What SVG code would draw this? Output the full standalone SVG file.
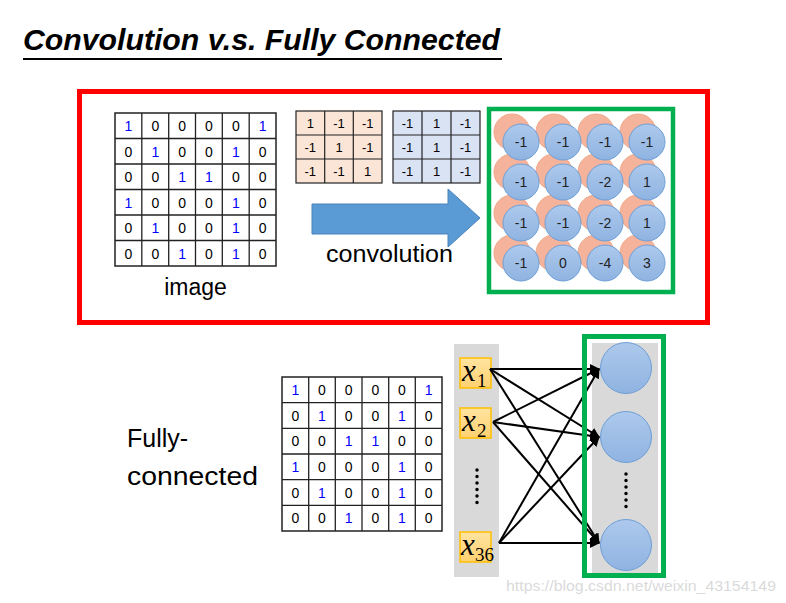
<svg xmlns="http://www.w3.org/2000/svg" width="786" height="603" viewBox="0 0 786 603">
<defs>
<style>
.t{font-family:"Liberation Sans",Arial,sans-serif;fill:#000}
.g{font-family:"Liberation Sans",Arial,sans-serif;font-size:14px;text-anchor:middle;dominant-baseline:central}
.one{fill:#0000ff}
.zero{fill:#000}
.cell{fill:#fff;stroke:#222;stroke-width:1.3}
.fo{fill:#fbe5d6;stroke:#222;stroke-width:1.2}
.fb{fill:#dae3f3;stroke:#222;stroke-width:1.2}
.ft{font-family:"Liberation Sans",Arial,sans-serif;font-size:13px;text-anchor:middle;dominant-baseline:central;fill:#000}
.oc{fill:#f4b39a;stroke:#f0a88a;stroke-width:1}
.bc{fill:url(#bg);stroke:#6e9fd6;stroke-width:1}
.ct{font-family:"Liberation Sans",Arial,sans-serif;font-size:14px;text-anchor:middle;dominant-baseline:central;fill:#222}
.xb{fill:url(#yg);stroke:#ffc000;stroke-width:1.5}
.xt{font-family:"Liberation Serif","Times New Roman",serif;font-style:italic;font-size:31px;fill:#000}
.sub{font-family:"Liberation Serif","Times New Roman",serif;font-size:19px;fill:#000}
.cn line{stroke:#000;stroke-width:2;marker-end:url(#ah)}
.dots{stroke:#000;stroke-width:3.5;stroke-linecap:round;stroke-dasharray:0 6.5}
</style>
<linearGradient id="bg" x1="0" y1="0" x2="0" y2="1">
<stop offset="0" stop-color="#adc9ec"/>
<stop offset="1" stop-color="#8fb3e1"/>
</linearGradient>
<linearGradient id="yg" x1="0" y1="0" x2="0" y2="1">
<stop offset="0" stop-color="#ffe4a0"/>
<stop offset="1" stop-color="#ffd070"/>
</linearGradient>
<marker id="ah" viewBox="0 0 10 10" refX="9" refY="5" markerWidth="5" markerHeight="5" orient="auto" markerUnits="strokeWidth">
<path d="M0,0 L10,5 L0,10 z" fill="#000"/>
</marker>
</defs>
<rect width="786" height="603" fill="#fff"/>

<g id="title">
<text class="t" x="23" y="50" font-size="30" font-weight="bold" font-style="italic" textLength="477" lengthAdjust="spacingAndGlyphs">Convolution v.s. Fully Connected</text>
<line x1="23" y1="59" x2="502" y2="59" stroke="#000" stroke-width="1.8"/>
</g>

<g id="conv-frame">
<rect x="79.5" y="91.5" width="628" height="231" fill="none" stroke="#ff0000" stroke-width="5"/>
</g>

<g id="image-grid">
<rect x="115" y="113" width="161" height="153" fill="#fff" stroke="#222" stroke-width="1.5"/>
<g stroke="#222" stroke-width="1.3">
<line x1="141.8" y1="113" x2="141.8" y2="266"/><line x1="168.7" y1="113" x2="168.7" y2="266"/><line x1="195.5" y1="113" x2="195.5" y2="266"/><line x1="222.3" y1="113" x2="222.3" y2="266"/><line x1="249.2" y1="113" x2="249.2" y2="266"/>
<line x1="115" y1="138.5" x2="276" y2="138.5"/><line x1="115" y1="164" x2="276" y2="164"/><line x1="115" y1="189.5" x2="276" y2="189.5"/><line x1="115" y1="215" x2="276" y2="215"/><line x1="115" y1="240.5" x2="276" y2="240.5"/>
</g>
<g class="g">
<text x="128.4" y="126" class="one">1</text><text x="155.3" y="126">0</text><text x="182.1" y="126">0</text><text x="208.9" y="126">0</text><text x="235.8" y="126">0</text><text x="262.6" y="126" class="one">1</text>
<text x="128.4" y="151.5">0</text><text x="155.3" y="151.5" class="one">1</text><text x="182.1" y="151.5">0</text><text x="208.9" y="151.5">0</text><text x="235.8" y="151.5" class="one">1</text><text x="262.6" y="151.5">0</text>
<text x="128.4" y="177">0</text><text x="155.3" y="177">0</text><text x="182.1" y="177" class="one">1</text><text x="208.9" y="177" class="one">1</text><text x="235.8" y="177">0</text><text x="262.6" y="177">0</text>
<text x="128.4" y="202.5" class="one">1</text><text x="155.3" y="202.5">0</text><text x="182.1" y="202.5">0</text><text x="208.9" y="202.5">0</text><text x="235.8" y="202.5" class="one">1</text><text x="262.6" y="202.5">0</text>
<text x="128.4" y="228">0</text><text x="155.3" y="228" class="one">1</text><text x="182.1" y="228">0</text><text x="208.9" y="228">0</text><text x="235.8" y="228" class="one">1</text><text x="262.6" y="228">0</text>
<text x="128.4" y="253.5">0</text><text x="155.3" y="253.5">0</text><text x="182.1" y="253.5" class="one">1</text><text x="208.9" y="253.5">0</text><text x="235.8" y="253.5" class="one">1</text><text x="262.6" y="253.5">0</text>
</g>
<text class="t" x="195.5" y="295" font-size="23" text-anchor="middle">image</text>
</g>

<g id="filter1">
<rect x="296" y="111" width="86" height="72" class="fo"/>
<g stroke="#222" stroke-width="1.2"><line x1="324.7" y1="111" x2="324.7" y2="183"/><line x1="353.3" y1="111" x2="353.3" y2="183"/><line x1="296" y1="135" x2="382" y2="135"/><line x1="296" y1="159" x2="382" y2="159"/></g>
<g class="ft">
<text x="310.3" y="123">1</text><text x="339" y="123">-1</text><text x="367.7" y="123">-1</text>
<text x="310.3" y="147">-1</text><text x="339" y="147">1</text><text x="367.7" y="147">-1</text>
<text x="310.3" y="171">-1</text><text x="339" y="171">-1</text><text x="367.7" y="171">1</text>
</g>
</g>

<g id="filter2">
<rect x="393" y="111" width="87" height="72" class="fb"/>
<g stroke="#222" stroke-width="1.2"><line x1="422" y1="111" x2="422" y2="183"/><line x1="451" y1="111" x2="451" y2="183"/><line x1="393" y1="135" x2="480" y2="135"/><line x1="393" y1="159" x2="480" y2="159"/></g>
<g class="ft">
<text x="407.5" y="123">-1</text><text x="436.5" y="123">1</text><text x="465.5" y="123">-1</text>
<text x="407.5" y="147">-1</text><text x="436.5" y="147">1</text><text x="465.5" y="147">-1</text>
<text x="407.5" y="171">-1</text><text x="436.5" y="171">1</text><text x="465.5" y="171">-1</text>
</g>
</g>

<g id="conv-arrow">
<path d="M312,204 L448,204 L448,189 L480,218 L448,247 L448,234 L312,234 Z" fill="#5b9bd5" stroke="#4a83bd" stroke-width="1"/>
<text class="t" x="326" y="262" font-size="23" textLength="127" lengthAdjust="spacingAndGlyphs">convolution</text>
</g>

<g id="feature-map">
<g class="oc">
<circle cx="512" cy="132" r="18"/><circle cx="554" cy="132" r="18"/><circle cx="596" cy="132" r="18"/><circle cx="638" cy="132" r="18"/>
<circle cx="512" cy="172" r="18"/><circle cx="554" cy="172" r="18"/><circle cx="596" cy="172" r="18"/><circle cx="638" cy="172" r="18"/>
<circle cx="512" cy="213" r="18"/><circle cx="554" cy="213" r="18"/><circle cx="596" cy="213" r="18"/><circle cx="638" cy="213" r="18"/>
<circle cx="512" cy="253" r="18"/><circle cx="554" cy="253" r="18"/><circle cx="596" cy="253" r="18"/><circle cx="638" cy="253" r="18"/>
</g>
<g class="bc">
<circle cx="521" cy="142" r="18"/><circle cx="563" cy="142" r="18"/><circle cx="605" cy="142" r="18"/><circle cx="647" cy="142" r="18"/>
<circle cx="521" cy="182" r="18"/><circle cx="563" cy="182" r="18"/><circle cx="605" cy="182" r="18"/><circle cx="647" cy="182" r="18"/>
<circle cx="521" cy="223" r="18"/><circle cx="563" cy="223" r="18"/><circle cx="605" cy="223" r="18"/><circle cx="647" cy="223" r="18"/>
<circle cx="521" cy="263" r="18"/><circle cx="563" cy="263" r="18"/><circle cx="605" cy="263" r="18"/><circle cx="647" cy="263" r="18"/>
</g>
<g class="ct">
<text x="521" y="142">-1</text><text x="563" y="142">-1</text><text x="605" y="142">-1</text><text x="647" y="142">-1</text>
<text x="521" y="182">-1</text><text x="563" y="182">-1</text><text x="605" y="182">-2</text><text x="647" y="182">1</text>
<text x="521" y="223">-1</text><text x="563" y="223">-1</text><text x="605" y="223">-2</text><text x="647" y="223">1</text>
<text x="521" y="263">-1</text><text x="563" y="263">0</text><text x="605" y="263">-4</text><text x="647" y="263">3</text>
</g>
<rect x="489" y="109" width="184" height="183" fill="none" stroke="#00b050" stroke-width="4.5"/>
</g>

<g id="fc-label">
<text class="t" x="127" y="447" font-size="25">Fully-</text>
<text class="t" x="127" y="485" font-size="25" textLength="131" lengthAdjust="spacingAndGlyphs">connected</text>
</g>

<g id="fc-grid">
<rect x="282" y="377" width="160" height="154" fill="#fff" stroke="#222" stroke-width="1.5"/>
<g stroke="#222" stroke-width="1.3">
<line x1="308.7" y1="377" x2="308.7" y2="531"/><line x1="335.3" y1="377" x2="335.3" y2="531"/><line x1="362" y1="377" x2="362" y2="531"/><line x1="388.7" y1="377" x2="388.7" y2="531"/><line x1="415.3" y1="377" x2="415.3" y2="531"/>
<line x1="282" y1="402.7" x2="442" y2="402.7"/><line x1="282" y1="428.3" x2="442" y2="428.3"/><line x1="282" y1="454" x2="442" y2="454"/><line x1="282" y1="479.7" x2="442" y2="479.7"/><line x1="282" y1="505.3" x2="442" y2="505.3"/>
</g>
<g class="g">
<text x="295.3" y="390" class="one">1</text><text x="322" y="390">0</text><text x="348.7" y="390">0</text><text x="375.3" y="390">0</text><text x="402" y="390">0</text><text x="428.7" y="390" class="one">1</text>
<text x="295.3" y="415.5">0</text><text x="322" y="415.5" class="one">1</text><text x="348.7" y="415.5">0</text><text x="375.3" y="415.5">0</text><text x="402" y="415.5" class="one">1</text><text x="428.7" y="415.5">0</text>
<text x="295.3" y="441.2">0</text><text x="322" y="441.2">0</text><text x="348.7" y="441.2" class="one">1</text><text x="375.3" y="441.2" class="one">1</text><text x="402" y="441.2">0</text><text x="428.7" y="441.2">0</text>
<text x="295.3" y="466.8" class="one">1</text><text x="322" y="466.8">0</text><text x="348.7" y="466.8">0</text><text x="375.3" y="466.8">0</text><text x="402" y="466.8" class="one">1</text><text x="428.7" y="466.8">0</text>
<text x="295.3" y="492.5">0</text><text x="322" y="492.5" class="one">1</text><text x="348.7" y="492.5">0</text><text x="375.3" y="492.5">0</text><text x="402" y="492.5" class="one">1</text><text x="428.7" y="492.5">0</text>
<text x="295.3" y="518.2">0</text><text x="322" y="518.2">0</text><text x="348.7" y="518.2" class="one">1</text><text x="375.3" y="518.2">0</text><text x="402" y="518.2" class="one">1</text><text x="428.7" y="518.2">0</text>
</g>
</g>

<g id="input-column">
<rect x="454" y="344" width="45" height="233" fill="#d9d9d9"/>
<line class="dots" x1="477" y1="470" x2="477" y2="508"/>
</g>
<g id="x1">
<rect x="460" y="358" width="31" height="30" class="xb"/>
<text class="xt" x="462" y="381">x</text><text class="sub" x="477" y="387">1</text>
</g>
<g id="x2">
<rect x="460" y="408" width="31" height="30" class="xb"/>
<text class="xt" x="462" y="431">x</text><text class="sub" x="477" y="437">2</text>
</g>
<g id="x36">
<rect x="460" y="532" width="31" height="30" class="xb"/>
<text class="xt" x="461" y="555">x</text><text class="sub" x="475" y="561">36</text>
</g>

<g id="output-column">
<rect x="592" y="343" width="66" height="234" fill="#d9d9d9"/>
<line class="dots" x1="626" y1="474" x2="626" y2="512"/>
</g>
<g id="h1"><circle cx="626" cy="368" r="25.5" class="bc"/></g>
<g id="h2"><circle cx="626" cy="437" r="25.5" class="bc"/></g>
<g id="h3"><circle cx="626" cy="545" r="25.5" class="bc"/></g>

<g id="connectors" class="cn">
<line x1="490" y1="369" x2="599" y2="369"/>
<line x1="490" y1="369" x2="599" y2="437"/>
<line x1="490" y1="369" x2="599" y2="543"/>
<line x1="493" y1="422" x2="599" y2="369"/>
<line x1="493" y1="422" x2="599" y2="437"/>
<line x1="493" y1="422" x2="599" y2="543"/>
<line x1="499" y1="543" x2="599" y2="369"/>
<line x1="499" y1="543" x2="599" y2="437"/>
<line x1="499" y1="543" x2="599" y2="543"/>
</g>

<g id="fc-frame">
<rect x="584.5" y="336.5" width="79" height="239" fill="none" stroke="#00b050" stroke-width="5"/>
</g>

<g id="watermark">
<text x="506" y="591" font-family="Liberation Sans, Arial, sans-serif" font-size="15" fill="#d0d0d0" fill-opacity="0.8" textLength="270" lengthAdjust="spacingAndGlyphs">https://blog.csdn.net/weixin_43154149</text>
</g>
</svg>
